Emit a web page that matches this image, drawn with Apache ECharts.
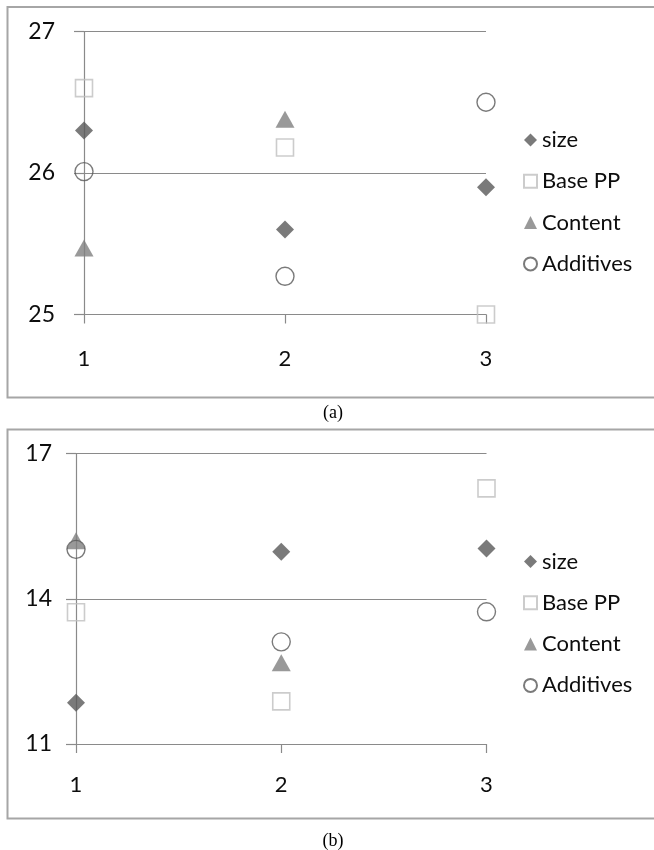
<!DOCTYPE html>
<html>
<head>
<meta charset="utf-8">
<script src="https://cdn.jsdelivr.net/npm/echarts@6/dist/echarts.min.js"></script>
<style>
html,body{margin:0;padding:0;background:#fff;}
#c{width:654px;height:850px;}
</style>
</head>
<body>
<div id="c"></div>
<script>
// Data
const seriesNames = ['size', 'Base PP', 'Content', 'Additives'];
const xValues = [1, 2, 3];
// Panel (a)
const aSize = [26.3, 25.6, 25.9];
const aBasePP = [26.6, 26.18, 25.0];
const aContent = [25.47, 26.38];
const aAdditives = [26.01, 25.27, 26.5];
// Panel (b)
const bSize = [11.85, 14.97, 15.04];
const bBasePP = [13.72, 11.88, 16.28];
const bContent = [15.2, 12.68];
const bAdditives = [15.02, 13.11, 13.73];
// Axis ticks
const aYTicks = [25, 26, 27];
const bYTicks = [11, 14, 17];
const captions = ['(a)', '(b)'];

const FONT = 'Lato';
const AXIS = '#8a8a8a';
const TXT = '#0d0d0d';

function pts(vals) { return vals.map((v, i) => [xValues[i], v]); }

const styles = [
  { symbol: 'diamond', symbolSize: 18, itemStyle: { color: '#595959' } },
  { symbol: 'rect', symbolSize: 17, itemStyle: { color: 'rgba(0,0,0,0)', borderColor: '#bfbfbf', borderWidth: 1.6 } },
  { symbol: 'triangle', symbolSize: [19, 17], itemStyle: { color: '#808080' } },
  { symbol: 'circle', symbolSize: 18, itemStyle: { color: 'rgba(0,0,0,0)', borderColor: '#595959', borderWidth: 1.4 } }
];

function mkSeries(idx, datas) {
  return datas.map((d, k) => Object.assign({
    type: 'scatter', name: seriesNames[k], xAxisIndex: idx, yAxisIndex: idx,
    data: pts(d), z: 3 + k
  }, styles[k]));
}

function xAx(idx, margin) {
  return {
    gridIndex: idx, type: 'value', min: 1, max: 3, interval: 1,
    axisLine: { show: true, lineStyle: { color: AXIS, width: 1.2 } },
    axisTick: { show: true, length: 9, lineStyle: { color: AXIS, width: 1.2 } },
    splitLine: { show: false },
    axisLabel: { margin: margin, fontFamily: FONT, fontSize: 22, color: TXT }
  };
}
function yAx(idx, ticks, margin) {
  return {
    gridIndex: idx, type: 'value', min: ticks[0], max: ticks[ticks.length - 1], interval: ticks[1] - ticks[0],
    axisLine: { show: true, lineStyle: { color: AXIS, width: 1.2 } },
    axisTick: { show: true, length: 10, lineStyle: { color: AXIS, width: 1.2 } },
    splitLine: { show: true, lineStyle: { color: AXIS, width: 1.2 } },
    axisLabel: { margin: margin, fontFamily: FONT, fontSize: 23, color: TXT }
  };
}
function legend(top) {
  return {
    data: seriesNames, orient: 'vertical', left: 523, top: top, padding: 0,
    itemWidth: 13, itemHeight: 13, itemGap: 19.3,
    textStyle: { fontFamily: FONT, fontSize: 22, color: TXT, lineHeight: 22 },
    selectedMode: false
  };
}

const chart = echarts.init(document.getElementById('c'), null, { renderer: 'canvas' });
const seriesA = mkSeries(0, [aSize, aBasePP, aContent, aAdditives]);
const seriesB = mkSeries(1, [bSize, bBasePP, bContent, bAdditives]);

chart.setOption({
  animation: false,
  grid: [
    { left: 84, width: 402, top: 31.5, height: 283 },
    { left: 76, width: 410.5, top: 453.5, height: 290.5 }
  ],
  xAxis: [xAx(0, 33), xAx(1, 30)],
  yAxis: [yAx(0, aYTicks, 29), yAx(1, bYTicks, 24)],
  legend: [legend(129), legend(550.5)],
  graphic: [
    { type: 'rect', shape: { x: 7.5, y: 7, width: 660, height: 390.5 }, style: { fill: 'none', stroke: '#a6a6a6', lineWidth: 2 }, z: -1, silent: true },
    { type: 'rect', shape: { x: 7.5, y: 429.5, width: 660, height: 389 }, style: { fill: 'none', stroke: '#a6a6a6', lineWidth: 2 }, z: -1, silent: true },
    { type: 'text', x: 333, y: 413, style: { text: captions[0], font: '18px "Liberation Serif"', fill: '#000', align: 'center', verticalAlign: 'middle' }, silent: true },
    { type: 'text', x: 333, y: 841, style: { text: captions[1], font: '18px "Liberation Serif"', fill: '#000', align: 'center', verticalAlign: 'middle' }, silent: true }
  ],
  series: seriesA.concat(seriesB)
});
</script>
</body>
</html>
